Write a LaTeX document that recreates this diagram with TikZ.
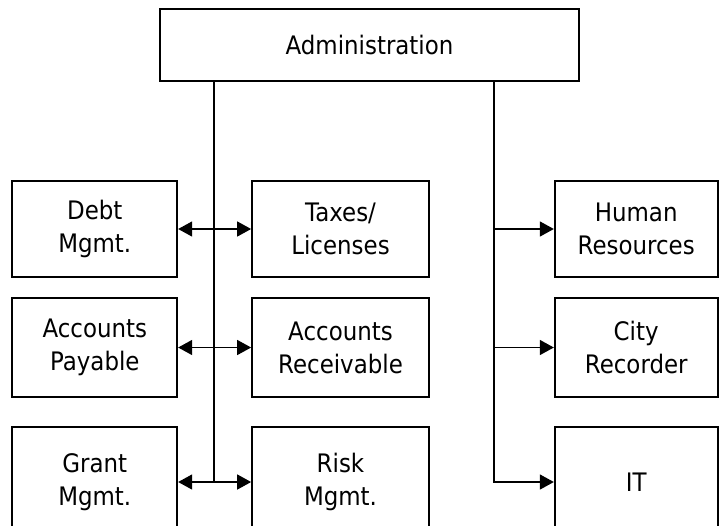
\documentclass[tikz,border=0pt]{standalone}
\usepackage{fontspec}
\setmainfont{DejaVu Sans}[FakeStretch=0.9]
\usetikzlibrary{positioning, arrows.meta}

\begin{document}
\begin{tikzpicture}[
    x=0.02cm, y=-0.02cm,
    >={Triangle[length=0.28cm, width=0.3cm]},
    orgbox/.style={rectangle, draw=black, line width=1pt, align=center, inner sep=0pt,
        font=\fontsize{14.5pt}{18.8pt}\selectfont},
    link/.style={draw=black, line width=0.8pt},
]
\useasboundingbox (0,0) rectangle (719,525);
\clip (0,0) rectangle (719,525);

\node[orgbox, minimum width=8.38cm, minimum height=1.44cm](admin) at (369.5,45){Administration};

% middle column
\node[orgbox, minimum width=3.54cm, minimum height=1.92cm](taxes) at (340.5,229){Taxes/\\Licenses};
\node[orgbox, minimum width=3.54cm, minimum height=1.98cm](receivable) at (340.5,347.5){Accounts\\Receivable};
\node[orgbox, minimum width=3.54cm, minimum height=2.2cm](risk) at (340.5,482){Risk\\Mgmt.};

% left column
\node[orgbox, minimum width=3.3cm, minimum height=1.92cm](debt)[left = 1.46cm of taxes]{Debt\\Mgmt.};
\node[orgbox, minimum width=3.3cm, minimum height=1.98cm](payable)[left = 1.46cm of receivable]{Accounts\\Payable};
\node[orgbox, minimum width=3.3cm, minimum height=2.2cm](grant)[left = 1.46cm of risk]{Grant\\Mgmt.};

% right column
\node[orgbox, minimum width=3.26cm, minimum height=1.92cm](hr)[right = 2.48cm of taxes]{Human\\Resources};
\node[orgbox, minimum width=3.26cm, minimum height=1.98cm](recorder)[right = 2.48cm of receivable]{City\\Recorder};
\node[orgbox, minimum width=3.26cm, minimum height=2.2cm](it)[right = 2.48cm of risk]{IT};

\coordinate (lstem) at (214,482);
\coordinate (rstem) at (494,482);

\draw[link] (admin.south -| lstem) -- (lstem);
\draw[link, <->] (debt) -- (taxes);
\draw[link, <->] (payable) -- (receivable);
\draw[link, <->] (grant) -- (risk);

\draw[link, ->] (admin.south -| rstem) -- (rstem) -- (it);
\draw[link, ->] (hr.west -| rstem) -- (hr);
\draw[link, ->] (recorder.west -| rstem) -- (recorder);
\end{tikzpicture}
\end{document}
